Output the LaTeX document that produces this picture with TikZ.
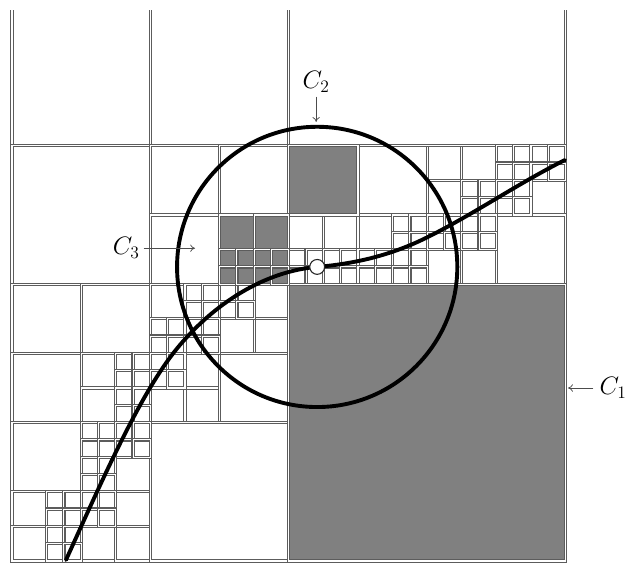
\documentclass[tikz,border=0pt]{standalone}
\usetikzlibrary{arrows.meta}
\tikzset{
  cell/.style={draw=black!64, double=white, line width=0.95pt, double distance=0.85pt},
  graycell/.style={cell, fill=black!50},
  thickline/.style={line width=3.2pt, black, line cap=round},
  labelnode/.style={inner sep=3pt, font=\fontsize{20}{24}\selectfont},
  labarrow/.style={draw=black!70, line width=0.6pt, -{To[length=4pt,width=6pt]}},
  dot/.style={circle, draw=black!85, fill=white, line width=0.9pt, minimum size=0.43cm, inner sep=0pt},
}
\begin{document}
\begin{tikzpicture}[x=1cm,y=1cm]
\useasboundingbox (-0.347,0.214) rectangle (17.89,-16.03);
\begin{scope}
\clip (-0.5,-0.085) rectangle (16.5,-16.5);
% white leaf cells (u, v from top, size)
\foreach \u/\v/\s in {0/0/4, 4/0/4, 0/4/4, 4/4/2, 6/4/2, 4/6/2, 10/4/2, 8/6/1, 9/6/1, 10/6/1,
  12/4/1, 13/4/1, 12/5/1, 15/5/1, 12/7/1, 13/7/1, 14/6/2, 0/8/2, 2/8/2, 0/10/2, 2/10/1, 2/11/1,
  4/8/1, 7/8/1, 6/9/1, 7/9/1, 4/11/1, 5/10/1, 5/11/1, 6/10/2, 0/12/2, 3/13/1, 0/14/1, 3/14/1,
  0/15/1, 2/15/1, 3/15/1, 4/12/4}
  \draw[cell] (\u,-\v) rectangle ++(\s,-\s);
\draw[cell] (8,0) rectangle (16,-4);
% unit cells split into four
\foreach \u/\v in {8/7, 9/7, 11/6, 10/7, 11/7, 13/5, 14/4, 15/4, 14/5, 12/6, 13/6, 3/10, 3/11,
  5/8, 6/8, 4/9, 5/9, 4/10, 2/12, 3/12, 2/13, 1/14, 2/14, 1/15}
  \foreach \a in {0,0.5} \foreach \b in {0,0.5}
    \draw[cell] (\u+\a,-\v-\b) rectangle ++(0.5,-0.5);
% gray cells
\foreach \u/\v/\s in {8/4/2, 6/6/1, 7/6/1, 8/8/8}
  \draw[graycell] (\u,-\v) rectangle ++(\s,-\s);
\foreach \u/\v in {6/7, 7/7}
  \foreach \a in {0,0.5} \foreach \b in {0,0.5}
    \draw[graycell] (\u+\a,-\v-\b) rectangle ++(0.5,-0.5);
\end{scope}
% circle and curve
\coordinate (ctr) at (8.82,-7.50);
\draw[thickline] (ctr) circle (4.05);
\draw[thickline] (1.56,-15.97) .. controls (2.64,-13.59) and (3.72,-11.12) .. (4.80,-9.82)
  .. controls (6.0,-8.38) and (7.48,-7.61) .. (ctr)
  .. controls (9.89,-7.41) and (10.96,-7.17) .. (12.03,-6.63)
  .. controls (13.35,-5.97) and (14.66,-5.07) .. (15.98,-4.41);
\node[dot] (p) at (ctr) {};
% labels
\node[labelnode] (c2) at (8.79,-2.16) {$C_2$};
\coordinate (c2tip) at (8.79,-3.31);
\draw[labarrow] (c2) -- (c2tip);
\node[labelnode] (c3) at (3.30,-6.96) {$C_3$};
\coordinate (c3tip) at (5.29,-6.96);
\draw[labarrow] (c3) -- (c3tip);
\node[labelnode, inner sep=5pt] (c1) at (17.37,-11.0) {$C_1$};
\coordinate (c1tip) at (16.07,-11.0);
\draw[labarrow] (c1) -- (c1tip);
\end{tikzpicture}
\end{document}
